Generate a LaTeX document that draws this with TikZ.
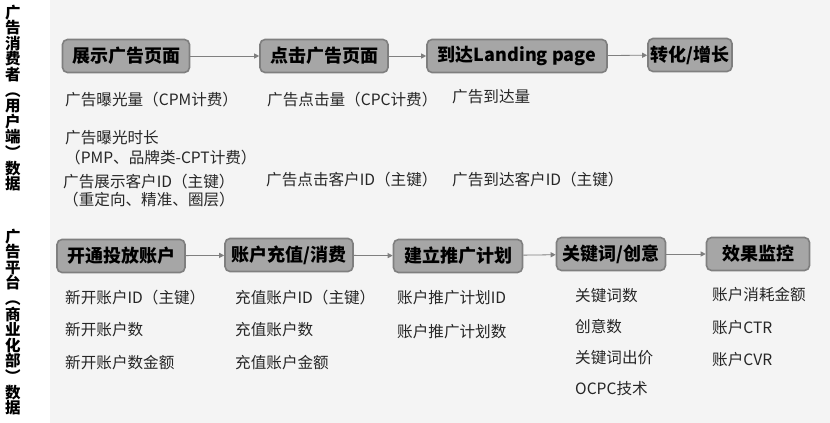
\documentclass[tikz,border=0pt]{standalone}
\usepackage{fontspec}
\setmainfont{Noto Sans CJK SC}
\usetikzlibrary{arrows.meta}
\definecolor{boxfill}{HTML}{A6A6A6}
\definecolor{boxline}{HTML}{7F7F7F}
\definecolor{bgcol}{HTML}{F4F4F4}
\definecolor{itemtext}{HTML}{262626}
\begin{document}
\begin{tikzpicture}[x=1pt,y=-1pt,
    stage/.style={draw=boxline,fill=boxfill,line width=1.6pt,rounded corners=5pt,
      minimum height=33pt,inner sep=0pt,font=\bfseries\fontsize{18}{20}\selectfont},
    item/.style={anchor=west,inner sep=0pt,text=itemtext,font=\fontsize{15.6}{17}\selectfont},
    side/.style={align=center,text width=16pt,inner sep=0pt,
      font=\bfseries\fontsize{15.5}{15.6}\selectfont},
    flow/.style={draw=boxline,line width=0.8pt,-{Triangle[length=5pt,width=5pt]}}]
    \fill[white] (0,0) rectangle (830,423);
    \fill[bgcol] (50,0) rectangle (830,423);
    \useasboundingbox (0,0) rectangle (830,423);
    % side titles
    \node[side] (userside) at (13,98) {广\\告\\消\\费\\者\\︵\\用\\户\\端\\︶\\数\\据};
    \node[side] (platside) at (13,322) {广\\告\\平\\台\\︵\\商\\业\\化\\部\\︶\\数\\据};
    % user side flow
    \node[stage,minimum width=127pt] (show) at (126,56) {展示广告页面};
    \node[stage,minimum width=128pt] (click) at (324,56) {点击广告页面};
    \node[stage,minimum width=180pt] (land) at (517,56) {到达Landing page};
    \node[stage,minimum width=84pt] (conv) at (690,55) {转化/增长};
    \draw[flow] (show) -- (click);
    \draw[flow] (click) -- (land);
    \draw[flow] (land) -- (conv);
    \node[item] (showa) at (65,100) {广告曝光量（CPM计费）};
    \node[item] (showb) at (65,138) {广告曝光时长};
    \node[item] (showc) at (65,158) {（PMP、品牌类-CPT计费）};
    \node[item] (showd) at (63,182) {广告展示客户ID（主键）};
    \node[item] (showe) at (63,200) {（重定向、精准、圈层）};
    \node[item] (clicka) at (267,100) {广告点击量（CPC计费）};
    \node[item] (clickb) at (266,180) {广告点击客户ID（主键）};
    \node[item] (landa) at (452,97) {广告到达量};
    \node[item] (landb) at (452,180) {广告到达客户ID（主键）};
    % platform side flow
    \node[stage,minimum width=128pt] (open) at (121,256) {开通投放账户};
    \node[stage,minimum width=128pt] (charge) at (289,255) {账户充值/消费};
    \node[stage,minimum width=129pt] (plan) at (458,256) {建立推广计划};
    \node[stage,minimum width=109pt] (kw) at (611,254) {关键词/创意};
    \node[stage,minimum width=103pt] (watch) at (758,254) {效果监控};
    \draw[flow] (open) -- (charge);
    \draw[flow] (charge) -- (plan);
    \draw[flow] (plan) -- (kw);
    \draw[flow] (kw) -- (watch);
    \node[item] (opena) at (65,298) {新开账户ID（主键）};
    \node[item] (openb) at (65,330) {新开账户数};
    \node[item] (openc) at (65,363) {新开账户数金额};
    \node[item] (chargea) at (235,298) {充值账户ID（主键）};
    \node[item] (chargeb) at (235,330) {充值账户数};
    \node[item] (chargec) at (235,363) {充值账户金额};
    \node[item] (plana) at (397,298) {账户推广计划ID};
    \node[item] (planb) at (397,332) {账户推广计划数};
    \node[item] (kwa) at (575,296) {关键词数};
    \node[item] (kwb) at (575,327) {创意数};
    \node[item] (kwc) at (575,358) {关键词出价};
    \node[item] (kwd) at (575,389) {OCPC技术};
    \node[item] (watcha) at (712,295) {账户消耗金额};
    \node[item] (watchb) at (712,328) {账户CTR};
    \node[item] (watchc) at (712,360) {账户CVR};
\end{tikzpicture}
\end{document}
